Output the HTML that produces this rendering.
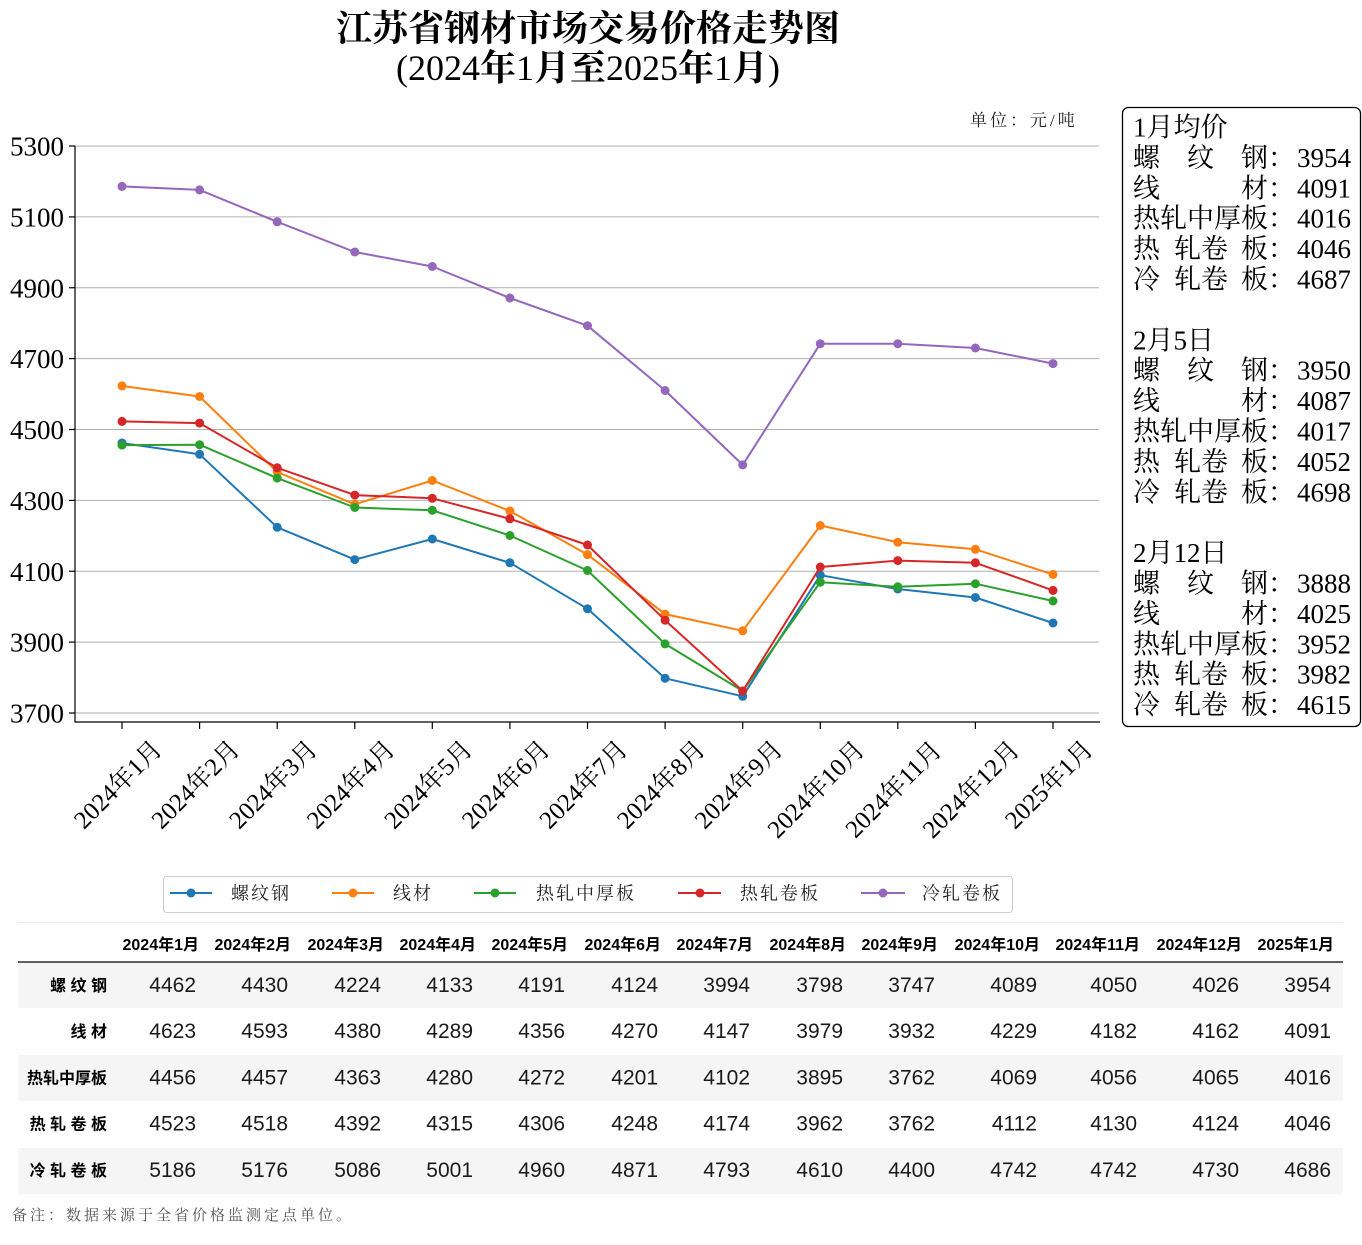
<!DOCTYPE html>
<html><head><meta charset="utf-8">
<style>
html,body{margin:0;padding:0;background:#fff;}
svg{display:block;}
.serif{font-family:"Liberation Serif","Noto Serif CJK SC",serif;}
.sans{font-family:"Liberation Sans","Noto Sans CJK SC",sans-serif;}
</style></head>
<body>
<svg width="1362" height="1245" viewBox="0 0 1362 1245" xmlns="http://www.w3.org/2000/svg">
<defs>
<marker id="mb" markerUnits="userSpaceOnUse" markerWidth="10" markerHeight="10" refX="5" refY="5"><circle cx="5" cy="5" r="4.5" fill="#1f77b4"/></marker>
<marker id="mo" markerUnits="userSpaceOnUse" markerWidth="10" markerHeight="10" refX="5" refY="5"><circle cx="5" cy="5" r="4.5" fill="#ff7f0e"/></marker>
<marker id="mg" markerUnits="userSpaceOnUse" markerWidth="10" markerHeight="10" refX="5" refY="5"><circle cx="5" cy="5" r="4.5" fill="#2ca02c"/></marker>
<marker id="mr" markerUnits="userSpaceOnUse" markerWidth="10" markerHeight="10" refX="5" refY="5"><circle cx="5" cy="5" r="4.5" fill="#d62728"/></marker>
<marker id="mp" markerUnits="userSpaceOnUse" markerWidth="10" markerHeight="10" refX="5" refY="5"><circle cx="5" cy="5" r="4.5" fill="#9467bd"/></marker>
</defs>

<!-- Title -->
<text class="serif" x="588" y="40.5" text-anchor="middle" font-size="36" font-weight="bold" fill="#000">江苏省钢材市场交易价格走势图</text>
<text class="serif" x="588" y="80" text-anchor="middle" font-size="36" fill="#000">(2024<tspan font-weight="bold">年</tspan>1<tspan font-weight="bold">月至</tspan>2025<tspan font-weight="bold">年</tspan>1<tspan font-weight="bold">月</tspan>)</text>

<!-- unit -->
<text class="serif" x="970" y="126" font-size="17" letter-spacing="3" fill="#222">单位：元/吨</text>

<!-- gridlines -->
<g stroke="#b0b0b0" stroke-width="1">
<line x1="75" y1="146" x2="1099" y2="146"/>
<line x1="75" y1="216.9" x2="1099" y2="216.9"/>
<line x1="75" y1="287.75" x2="1099" y2="287.75"/>
<line x1="75" y1="358.6" x2="1099" y2="358.6"/>
<line x1="75" y1="429.5" x2="1099" y2="429.5"/>
<line x1="75" y1="500.4" x2="1099" y2="500.4"/>
<line x1="75" y1="571.25" x2="1099" y2="571.25"/>
<line x1="75" y1="642.1" x2="1099" y2="642.1"/>
<line x1="75" y1="713" x2="1099" y2="713"/>
</g>

<!-- spines -->
<g stroke="#000" stroke-width="1.2">
<line x1="75" y1="146" x2="75" y2="722.5"/>
<line x1="74.5" y1="722" x2="1100" y2="722"/>
<line x1="69" y1="146" x2="75" y2="146"/>
<line x1="69" y1="216.9" x2="75" y2="216.9"/>
<line x1="69" y1="287.75" x2="75" y2="287.75"/>
<line x1="69" y1="358.6" x2="75" y2="358.6"/>
<line x1="69" y1="429.5" x2="75" y2="429.5"/>
<line x1="69" y1="500.4" x2="75" y2="500.4"/>
<line x1="69" y1="571.25" x2="75" y2="571.25"/>
<line x1="69" y1="642.1" x2="75" y2="642.1"/>
<line x1="69" y1="713" x2="75" y2="713"/>
<line x1="122" y1="722" x2="122" y2="729"/>
<line x1="199.6" y1="722" x2="199.6" y2="729"/>
<line x1="277.2" y1="722" x2="277.2" y2="729"/>
<line x1="354.8" y1="722" x2="354.8" y2="729"/>
<line x1="432.3" y1="722" x2="432.3" y2="729"/>
<line x1="509.9" y1="722" x2="509.9" y2="729"/>
<line x1="587.5" y1="722" x2="587.5" y2="729"/>
<line x1="665.1" y1="722" x2="665.1" y2="729"/>
<line x1="742.7" y1="722" x2="742.7" y2="729"/>
<line x1="820.3" y1="722" x2="820.3" y2="729"/>
<line x1="897.8" y1="722" x2="897.8" y2="729"/>
<line x1="975.4" y1="722" x2="975.4" y2="729"/>
<line x1="1053" y1="722" x2="1053" y2="729"/>
</g>

<!-- y tick labels -->
<g class="serif" font-size="27" text-anchor="end" fill="#000">
<text x="64" y="155.5">5300</text>
<text x="64" y="226.4">5100</text>
<text x="64" y="297.25">4900</text>
<text x="64" y="368.1">4700</text>
<text x="64" y="439">4500</text>
<text x="64" y="509.9">4300</text>
<text x="64" y="580.75">4100</text>
<text x="64" y="651.6">3900</text>
<text x="64" y="722.5">3700</text>
</g>

<!-- x tick labels -->
<g class="serif" font-size="25" text-anchor="middle" dominant-baseline="central" fill="#000">
<text transform="translate(118.5,785) rotate(-45)">2024年1月</text>
<text transform="translate(196.1,785) rotate(-45)">2024年2月</text>
<text transform="translate(273.7,785) rotate(-45)">2024年3月</text>
<text transform="translate(351.3,785) rotate(-45)">2024年4月</text>
<text transform="translate(428.8,785) rotate(-45)">2024年5月</text>
<text transform="translate(506.4,785) rotate(-45)">2024年6月</text>
<text transform="translate(584,785) rotate(-45)">2024年7月</text>
<text transform="translate(661.6,785) rotate(-45)">2024年8月</text>
<text transform="translate(739.2,785) rotate(-45)">2024年9月</text>
<text transform="translate(816.5,790) rotate(-45)">2024年10月</text>
<text transform="translate(894,790) rotate(-45)">2024年11月</text>
<text transform="translate(971.6,790) rotate(-45)">2024年12月</text>
<text transform="translate(1049.5,785) rotate(-45)">2025年1月</text>
</g>

<!-- series -->
<g fill="none" stroke-width="2" stroke-linejoin="round" stroke-linecap="round">
<polyline stroke="#1f77b4" marker-start="url(#mb)" marker-mid="url(#mb)" marker-end="url(#mb)" points="122,443.0 199.6,454.3 277.2,527.3 354.8,559.6 432.3,539.0 509.9,562.8 587.5,608.8 665.1,678.3 742.7,696.3 820.3,575.2 897.8,589.0 975.4,597.5 1053,623.0"/>
<polyline stroke="#ff7f0e" marker-start="url(#mo)" marker-mid="url(#mo)" marker-end="url(#mo)" points="122,385.9 199.6,396.5 277.2,472.0 354.8,504.3 432.3,480.5 509.9,511.0 587.5,554.6 665.1,614.1 742.7,630.8 820.3,525.5 897.8,542.2 975.4,549.3 1053,574.4"/>
<polyline stroke="#2ca02c" marker-start="url(#mg)" marker-mid="url(#mg)" marker-end="url(#mg)" points="122,445.1 199.6,444.7 277.2,478.1 354.8,507.5 432.3,510.3 509.9,535.5 587.5,570.5 665.1,643.9 742.7,691.0 820.3,582.2 897.8,586.8 975.4,583.7 1053,601.0"/>
<polyline stroke="#d62728" marker-start="url(#mr)" marker-mid="url(#mr)" marker-end="url(#mr)" points="122,421.4 199.6,423.1 277.2,467.8 354.8,495.1 432.3,498.3 509.9,518.8 587.5,545.0 665.1,620.2 742.7,691.0 820.3,567.0 897.8,560.6 975.4,562.8 1053,590.4"/>
<polyline stroke="#9467bd" marker-start="url(#mp)" marker-mid="url(#mp)" marker-end="url(#mp)" points="122,186.4 199.6,189.9 277.2,221.8 354.8,252.0 432.3,266.5 509.9,298.0 587.5,325.7 665.1,390.5 742.7,464.9 820.3,343.7 897.8,343.7 975.4,348.0 1053,363.6"/>
</g>

<!-- right info box -->
<rect x="1122.5" y="107.5" width="238" height="619" rx="6" ry="6" fill="#fff" stroke="#000" stroke-width="1.3"/>
<g class="serif" font-size="27" fill="#000">
<text x="1133" y="136.5">1月均价</text>
<text x="1133 1187 1241 1268 1297" y="166.9">螺纹钢：3954</text>
<text x="1133 1241 1268 1297" y="197.3">线材：4091</text>
<text x="1133 1160 1187 1214 1241 1268 1297" y="227.7">热轧中厚板：4016</text>
<text x="1133 1174 1201 1241 1268 1297" y="258.1">热轧卷板：4046</text>
<text x="1133 1174 1201 1241 1268 1297" y="288.5">冷轧卷板：4687</text>

<text x="1133" y="349.3">2月5日</text>
<text x="1133 1187 1241 1268 1297" y="379.7">螺纹钢：3950</text>
<text x="1133 1241 1268 1297" y="410.1">线材：4087</text>
<text x="1133 1160 1187 1214 1241 1268 1297" y="440.5">热轧中厚板：4017</text>
<text x="1133 1174 1201 1241 1268 1297" y="470.9">热轧卷板：4052</text>
<text x="1133 1174 1201 1241 1268 1297" y="501.3">冷轧卷板：4698</text>

<text x="1133" y="562.1">2月12日</text>
<text x="1133 1187 1241 1268 1297" y="592.5">螺纹钢：3888</text>
<text x="1133 1241 1268 1297" y="622.9">线材：4025</text>
<text x="1133 1160 1187 1214 1241 1268 1297" y="653.3">热轧中厚板：3952</text>
<text x="1133 1174 1201 1241 1268 1297" y="683.7">热轧卷板：3982</text>
<text x="1133 1174 1201 1241 1268 1297" y="714.1">冷轧卷板：4615</text>
</g>

<!-- legend -->
<rect x="163.5" y="876.5" width="849" height="36" rx="3" ry="3" fill="#fff" stroke="#cccccc" stroke-width="1"/>
<g stroke-width="2">
<line x1="170" y1="893" x2="212" y2="893" stroke="#1f77b4"/><circle cx="191" cy="893" r="4.5" fill="#1f77b4" stroke="none"/>
<line x1="332" y1="893" x2="374" y2="893" stroke="#ff7f0e"/><circle cx="353" cy="893" r="4.5" fill="#ff7f0e" stroke="none"/>
<line x1="474" y1="893" x2="516" y2="893" stroke="#2ca02c"/><circle cx="495" cy="893" r="4.5" fill="#2ca02c" stroke="none"/>
<line x1="678" y1="893" x2="721" y2="893" stroke="#d62728"/><circle cx="700" cy="893" r="4.5" fill="#d62728" stroke="none"/>
<line x1="861" y1="893" x2="905" y2="893" stroke="#9467bd"/><circle cx="883" cy="893" r="4.5" fill="#9467bd" stroke="none"/>
</g>
<g class="serif" font-size="18" letter-spacing="2" fill="#222">
<text x="231" y="899.5">螺纹钢</text>
<text x="393" y="899.5">线材</text>
<text x="536" y="899.5">热轧中厚板</text>
<text x="740" y="899.5">热轧卷板</text>
<text x="922" y="899.5">冷轧卷板</text>
</g>

<!-- table -->
<line x1="18" y1="922.5" x2="1343" y2="922.5" stroke="#eeeeee" stroke-width="1"/>
<rect x="18" y="962" width="1325" height="46" fill="#f5f5f5"/>
<rect x="18" y="1055" width="1325" height="46" fill="#f5f5f5"/>
<rect x="18" y="1148" width="1325" height="46" fill="#f5f5f5"/>
<line x1="18" y1="962" x2="1343" y2="962" stroke="#000" stroke-width="1.3"/>

<g class="sans" font-size="16" font-weight="bold" text-anchor="end" fill="#000">
<text x="199" y="950">2024年1月</text>
<text x="291" y="950">2024年2月</text>
<text x="384" y="950">2024年3月</text>
<text x="476" y="950">2024年4月</text>
<text x="568" y="950">2024年5月</text>
<text x="661" y="950">2024年6月</text>
<text x="753" y="950">2024年7月</text>
<text x="846" y="950">2024年8月</text>
<text x="938" y="950">2024年9月</text>
<text x="1040" y="950">2024年10月</text>
<text x="1140" y="950">2024年11月</text>
<text x="1242" y="950">2024年12月</text>
<text x="1334" y="950">2025年1月</text>

<text x="107" y="991" xml:space="preserve">螺 纹 钢</text>
<text x="107" y="1037.2" xml:space="preserve">线 材</text>
<text x="107" y="1083.4">热轧中厚板</text>
<text x="107" y="1129.6" xml:space="preserve">热 轧 卷 板</text>
<text x="107" y="1175.8" xml:space="preserve">冷 轧 卷 板</text>
</g>

<g class="sans" font-size="21" text-anchor="end" fill="#1a1a1a">
<text x="196" y="992">4462</text><text x="288" y="992">4430</text><text x="381" y="992">4224</text><text x="473" y="992">4133</text><text x="565" y="992">4191</text><text x="658" y="992">4124</text><text x="750" y="992">3994</text><text x="843" y="992">3798</text><text x="935" y="992">3747</text><text x="1037" y="992">4089</text><text x="1137" y="992">4050</text><text x="1239" y="992">4026</text><text x="1331" y="992">3954</text>

<text x="196" y="1038.2">4623</text><text x="288" y="1038.2">4593</text><text x="381" y="1038.2">4380</text><text x="473" y="1038.2">4289</text><text x="565" y="1038.2">4356</text><text x="658" y="1038.2">4270</text><text x="750" y="1038.2">4147</text><text x="843" y="1038.2">3979</text><text x="935" y="1038.2">3932</text><text x="1037" y="1038.2">4229</text><text x="1137" y="1038.2">4182</text><text x="1239" y="1038.2">4162</text><text x="1331" y="1038.2">4091</text>

<text x="196" y="1084.4">4456</text><text x="288" y="1084.4">4457</text><text x="381" y="1084.4">4363</text><text x="473" y="1084.4">4280</text><text x="565" y="1084.4">4272</text><text x="658" y="1084.4">4201</text><text x="750" y="1084.4">4102</text><text x="843" y="1084.4">3895</text><text x="935" y="1084.4">3762</text><text x="1037" y="1084.4">4069</text><text x="1137" y="1084.4">4056</text><text x="1239" y="1084.4">4065</text><text x="1331" y="1084.4">4016</text>

<text x="196" y="1130.6">4523</text><text x="288" y="1130.6">4518</text><text x="381" y="1130.6">4392</text><text x="473" y="1130.6">4315</text><text x="565" y="1130.6">4306</text><text x="658" y="1130.6">4248</text><text x="750" y="1130.6">4174</text><text x="843" y="1130.6">3962</text><text x="935" y="1130.6">3762</text><text x="1037" y="1130.6">4112</text><text x="1137" y="1130.6">4130</text><text x="1239" y="1130.6">4124</text><text x="1331" y="1130.6">4046</text>

<text x="196" y="1176.8">5186</text><text x="288" y="1176.8">5176</text><text x="381" y="1176.8">5086</text><text x="473" y="1176.8">5001</text><text x="565" y="1176.8">4960</text><text x="658" y="1176.8">4871</text><text x="750" y="1176.8">4793</text><text x="843" y="1176.8">4610</text><text x="935" y="1176.8">4400</text><text x="1037" y="1176.8">4742</text><text x="1137" y="1176.8">4742</text><text x="1239" y="1176.8">4730</text><text x="1331" y="1176.8">4686</text>
</g>

<!-- footnote -->
<text class="serif" x="12" y="1220" font-size="15" letter-spacing="3" fill="#555">备注：数据来源于全省价格监测定点单位。</text>
</svg>
</body></html>
